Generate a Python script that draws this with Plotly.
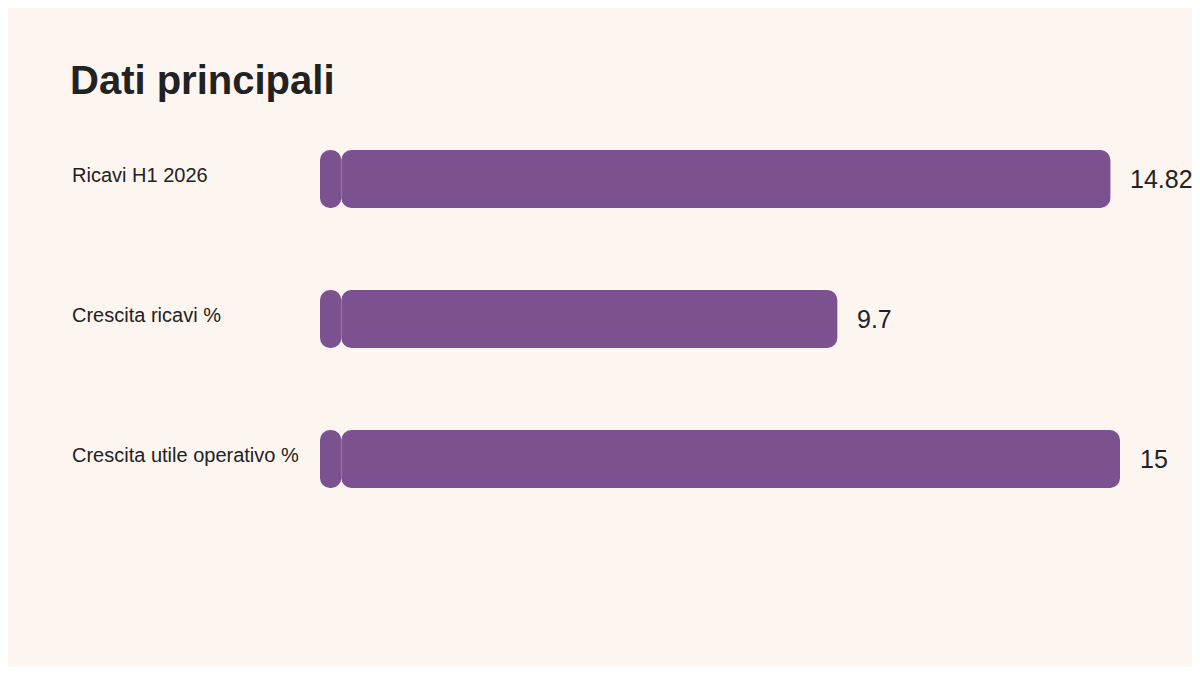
import plotly.graph_objects as go

categories = ["Ricavi H1 2026", "Crescita ricavi %", "Crescita utile operativo %"]
values = [14.82, 9.7, 15]
value_labels = ["14.82", "9.7", "15"]

bar_color = "#7B5190"
bg = "#FDF5F0"
ink = "#222222"
cap = 0.4  # small left piece so both ends of each bar get rounded corners

fig = go.Figure()
fig.add_trace(
    go.Bar(
        x=[v - cap for v in values], base=[cap] * len(values), y=categories,
        orientation="h", width=0.414,
        marker=dict(color=bar_color, cornerradius=10, line=dict(width=0)),
        hoverinfo="skip",
    )
)
fig.add_trace(
    go.Bar(
        x=[-cap] * len(values), base=[cap] * len(values), y=categories,
        orientation="h", width=0.414,
        marker=dict(color=bar_color, cornerradius=10, line=dict(width=0)),
        hoverinfo="skip",
    )
)

for cat, val, lab in zip(categories, values, value_labels):
    fig.add_annotation(
        x=-250 / 800, xref="paper", y=cat, yref="y", text=cat,
        xanchor="left", yanchor="middle", yshift=4, showarrow=False,
        font=dict(size=20, color=ink),
    )
    fig.add_annotation(
        x=val, xref="x", y=cat, yref="y", text=lab,
        xanchor="left", yanchor="middle", xshift=18, showarrow=False,
        font=dict(size=25, color=ink),
    )

fig.update_layout(
    width=1184,
    height=659,
    barmode="overlay",
    paper_bgcolor=bg,
    plot_bgcolor=bg,
    margin=dict(l=312, r=72, t=101, b=138),
    font=dict(family="Liberation Sans, Arial, sans-serif", color=ink),
    showlegend=False,
    title=dict(
        text="<b>Dati principali</b>",
        x=62 / 1184, xanchor="left", xref="container",
        y=1 - 72 / 659, yanchor="middle", yref="container",
        font=dict(size=40, color=ink),
    ),
)
fig.update_xaxes(range=[0, 15], visible=False)
fig.update_yaxes(range=[2.5, -0.5], visible=False)

fig.write_html("out.html")
